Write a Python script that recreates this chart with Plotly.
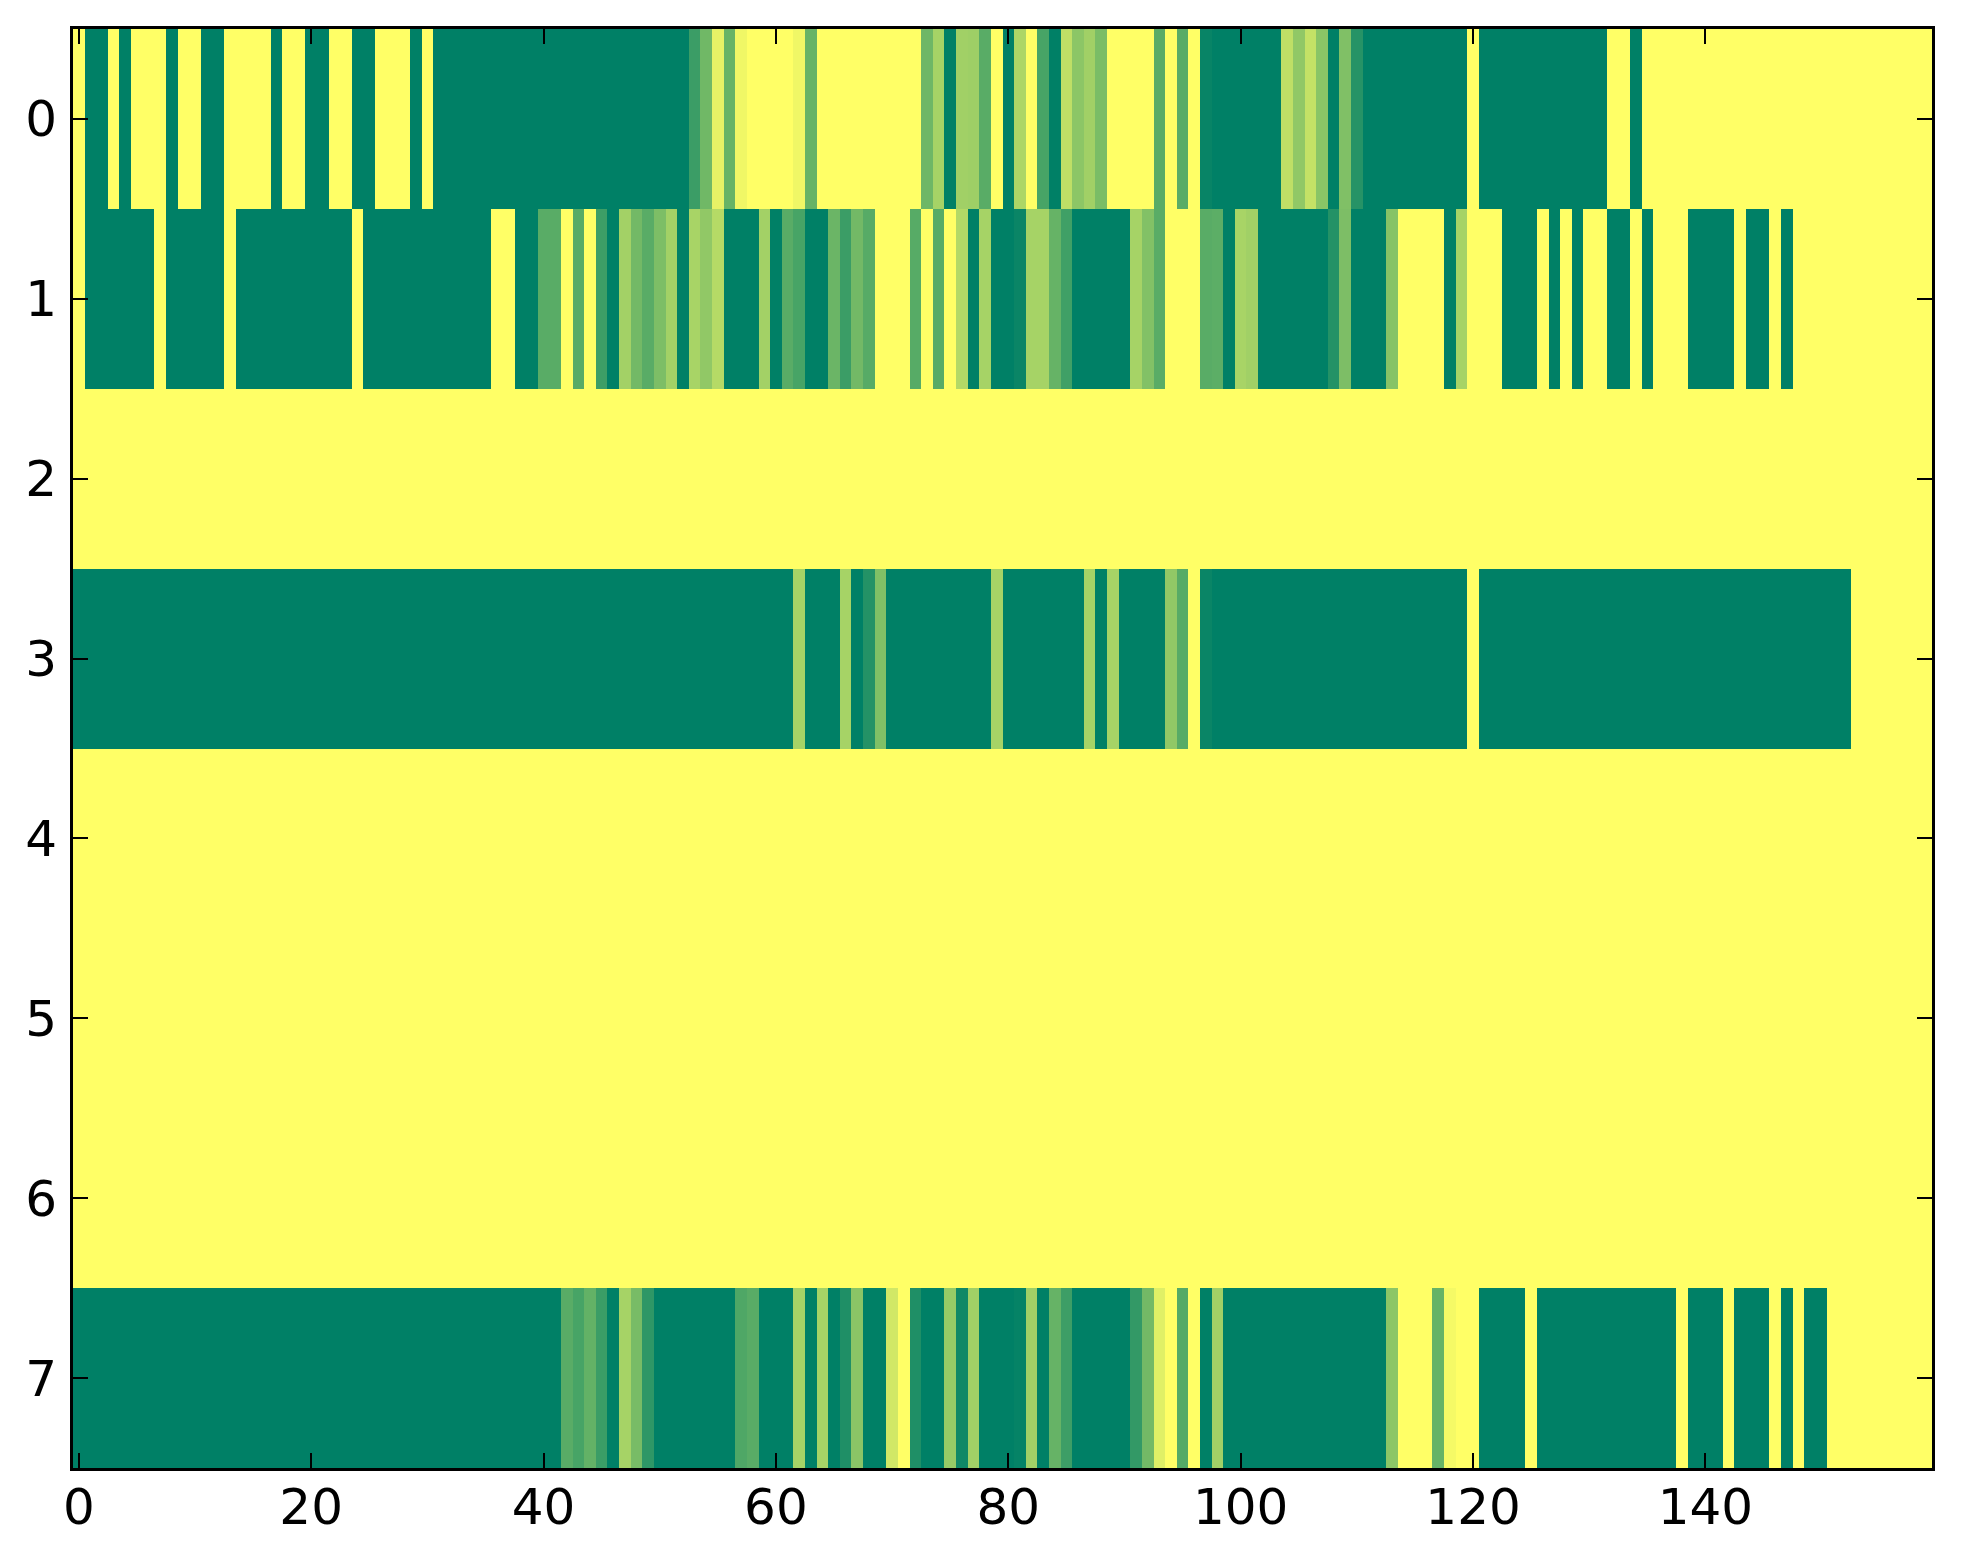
import plotly.graph_objects as go

# heatmap values, one list per row (160 columns each)
row0 = [1, 0, 0, 1, 0, 1, 1, 1, 0, 1, 1, 0, 0, 1, 1, 1, 1, 0, 1, 1,
        0, 0, 1, 1, 0, 0, 1, 1, 1, 0, 1, 0, 0, 0, 0, 0, 0, 0, 0, 0,
        0, 0, 0, 0, 0, 0, 0, 0, 0, 0, 0, 0, 0, 0.23, 0.44, 0.9, 0.40, 0.94, 1, 1,
        1, 1, 0.94, 0.40, 1, 1, 1, 1, 1, 1, 1, 1, 1, 0.43, 0.65, 0, 0.63, 0.62, 0.35, 1,
        0, 0.68, 1, 0.28, 0, 0.75, 0.55, 0.63, 0.48, 1, 1, 1, 1, 0.35, 1, 0.35, 1, 0.03, 0, 0,
        0, 0, 0, 0, 0.75, 0.57, 0.77, 0.54, 0, 0.5, 0.15, 0, 0, 0, 0, 0, 0, 0, 0, 0,
        1, 0, 0, 0, 0, 0, 0, 0, 0, 0, 0, 0, 1, 1, 0, 1, 1, 1, 1, 1,
        1, 1, 1, 1, 1, 1, 1, 1, 1, 1, 1, 1, 1, 1, 1, 1, 1, 1, 1, 1]

row1 = [1, 0, 0, 0, 0, 0, 0, 1, 0, 0, 0, 0, 0, 1, 0, 0, 0, 0, 0, 0,
        0, 0, 0, 0, 1, 0, 0, 0, 0, 0, 0, 0, 0, 0, 0, 0, 1, 1, 0, 0,
        0.35, 0.35, 1, 0.34, 1, 0.24, 0, 0.64, 0.45, 0.35, 0.49, 0.64, 0, 0.66, 0.57, 0.71, 0, 0, 0, 0.64,
        0, 0.35, 0.28, 0, 0, 0.42, 0.23, 0.45, 0.34, 1, 1, 1, 0.34, 1, 0.34, 1, 0.7, 0, 0.65, 0,
        0, 0.04, 0.65, 0.65, 0.40, 0.25, 0, 0, 0, 0, 0, 0.65, 0.51, 0.35, 1, 1, 1, 0.35, 0.36, 0,
        0.66, 0.63, 0, 0, 0, 0, 0, 0, 0.14, 0.49, 0, 0, 0, 0.53, 1, 1, 1, 1, 0, 0.65,
        1, 1, 1, 0, 0, 0, 1, 0, 1, 0, 1, 1, 0, 0, 1, 0, 1, 1, 1, 0,
        0, 0, 0, 1, 0, 0, 1, 0, 1, 1, 1, 1, 1, 1, 1, 1, 1, 1, 1, 1]

row2 = [1, 1, 1, 1, 1, 1, 1, 1, 1, 1, 1, 1, 1, 1, 1, 1, 1, 1, 1, 1,
        1, 1, 1, 1, 1, 1, 1, 1, 1, 1, 1, 1, 1, 1, 1, 1, 1, 1, 1, 1,
        1, 1, 1, 1, 1, 1, 1, 1, 1, 1, 1, 1, 1, 1, 1, 1, 1, 1, 1, 1,
        1, 1, 1, 1, 1, 1, 1, 1, 1, 1, 1, 1, 1, 1, 1, 1, 1, 1, 1, 1,
        1, 1, 1, 1, 1, 1, 1, 1, 1, 1, 1, 1, 1, 1, 1, 1, 1, 1, 1, 1,
        1, 1, 1, 1, 1, 1, 1, 1, 1, 1, 1, 1, 1, 1, 1, 1, 1, 1, 1, 1,
        1, 1, 1, 1, 1, 1, 1, 1, 1, 1, 1, 1, 1, 1, 1, 1, 1, 1, 1, 1,
        1, 1, 1, 1, 1, 1, 1, 1, 1, 1, 1, 1, 1, 1, 1, 1, 1, 1, 1, 1]

row3 = [0, 0, 0, 0, 0, 0, 0, 0, 0, 0, 0, 0, 0, 0, 0, 0, 0, 0, 0, 0,
        0, 0, 0, 0, 0, 0, 0, 0, 0, 0, 0, 0, 0, 0, 0, 0, 0, 0, 0, 0,
        0, 0, 0, 0, 0, 0, 0, 0, 0, 0, 0, 0, 0, 0, 0, 0, 0, 0, 0, 0,
        0, 0, 0.65, 0, 0, 0, 0.65, 0, 0.14, 0.5, 0, 0, 0, 0, 0, 0, 0, 0, 0, 0.65,
        0, 0, 0, 0, 0, 0, 0, 0.65, 0, 0.65, 0, 0, 0, 0, 0.57, 0.34, 1, 0.04, 0, 0,
        0, 0, 0, 0, 0, 0, 0, 0, 0, 0, 0, 0, 0, 0, 0, 0, 0, 0, 0, 0,
        1, 0, 0, 0, 0, 0, 0, 0, 0, 0, 0, 0, 0, 0, 0, 0, 0, 0, 0, 0,
        0, 0, 0, 0, 0, 0, 0, 0, 0, 0, 0, 0, 0, 1, 1, 1, 1, 1, 1, 1]

row4 = list(row2)
row5 = list(row2)
row6 = list(row2)

row7 = [0, 0, 0, 0, 0, 0, 0, 0, 0, 0, 0, 0, 0, 0, 0, 0, 0, 0, 0, 0,
        0, 0, 0, 0, 0, 0, 0, 0, 0, 0, 0, 0, 0, 0, 0, 0, 0, 0, 0, 0,
        0, 0, 0.35, 0.28, 0.39, 0.23, 0, 0.65, 0.47, 0.18, 0, 0, 0, 0, 0, 0, 0, 0.31, 0.35, 0,
        0, 0, 0.65, 0, 0.65, 0, 0.12, 0.54, 0, 0, 0.82, 1, 0.12, 0, 0, 0.59, 0.06, 0.63, 0, 0,
        0, 0.02, 0.63, 0, 0.40, 0.24, 0, 0, 0, 0, 0, 0.2, 0.45, 0.88, 1, 0.33, 1, 0, 0.63, 0,
        0, 0, 0, 0, 0, 0, 0, 0, 0, 0, 0, 0, 0, 0.55, 1, 1, 1, 0.40, 0.96, 1,
        1, 0, 0, 0, 0, 1, 0, 0, 0, 0, 0, 0, 0, 0, 0, 0, 0, 0, 1, 0,
        0, 0, 1, 0, 0, 0, 1, 0, 1, 0, 0, 1, 1, 1, 1, 1, 1, 1, 1, 1]

cols = list(range(160))
rows = list(range(8))
xticks = [0, 20, 40, 60, 80, 100, 120, 140]
yticks = [0, 1, 2, 3, 4, 5, 6, 7]

z = [row0, row1, row2, row3, row4, row5, row6, row7]

# matplotlib "summer" colormap
summer = [[0, "rgb(0,128,102)"], [1, "rgb(255,255,102)"]]

fig = go.Figure()
fig.add_trace(go.Heatmap(
    z=z, x=cols, y=rows,
    colorscale=summer, zmin=0, zmax=1,
    showscale=False, hoverinfo="skip",
))

axis_style = dict(
    showline=True, linecolor="black", linewidth=3, mirror="ticks",
    ticks="inside", ticklen=15, tickwidth=1.5, tickcolor="black",
    showgrid=False, zeroline=False, automargin=False,
    tickfont=dict(family="DejaVu Sans", size=50, color="black"),
)

# page body has an 8px margin, so the plot box is pulled up/left by that much
fig.update_layout(
    width=1963, height=1564,
    margin=dict(l=65, r=39, t=21, b=104),
    paper_bgcolor="white", plot_bgcolor="white",
    xaxis=dict(range=[-0.5, 159.5], tickvals=xticks, ticklabelstandoff=-7, **axis_style),
    yaxis=dict(range=[7.5, -0.5], tickvals=yticks, ticklabelstandoff=3, **axis_style),
)

fig.write_html("out.html")
